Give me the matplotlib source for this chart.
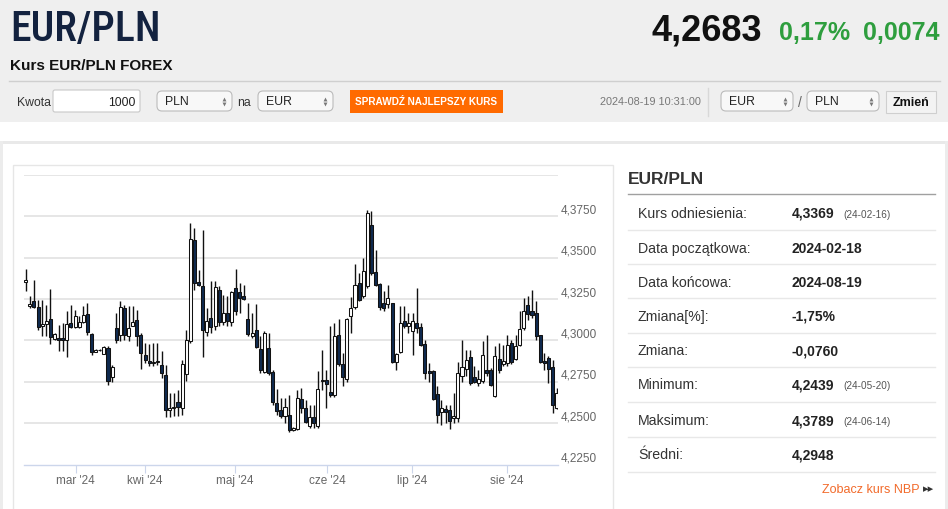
import numpy as np
import matplotlib
matplotlib.use("Agg")
import matplotlib.pyplot as plt
from matplotlib import font_manager as fm
from matplotlib.font_manager import FontProperties
from matplotlib.patches import Rectangle, FancyBboxPatch
import matplotlib.transforms as mtrans

# ---------------- data ----------------
opens = [4.3355, 4.3210, 4.3236, 4.3202, 4.3085, 4.3099, 4.3129, 4.3011, 4.3015, 4.3015,
         4.3003, 4.3105, 4.3081, 4.3081, 4.3109, 4.3160, 4.3041, 4.2930, 4.2944, 4.2920,
         4.2954, 4.2779, 4.3075, 4.3031, 4.3196, 4.3029, 4.3089, 4.3125, 4.3031, 4.2914,
         4.2877, 4.2863, 4.2869, 4.2853, 4.2789, 4.2581, 4.2591, 4.2627, 4.2591, 4.2799,
         4.2995, 4.3609, 4.3353, 4.3327, 4.3051, 4.3135, 4.3085, 4.3307, 4.3111, 4.3166,
         4.3111, 4.3317, 4.3291, 4.3270, 4.3129, 4.3025, 4.3065, 4.2950, 4.2809, 4.2954,
         4.2809, 4.2621, 4.2577, 4.2541, 4.2551, 4.2460, 4.2464, 4.2645, 4.2591, 4.2484,
         4.2535, 4.2486, 4.2754, 4.2762, 4.2688, 4.2671, 4.3031, 4.2859, 4.2768, 4.3146,
         4.3202, 4.3347, 4.3270, 4.3327, 4.3696, 4.3412, 4.3341, 4.3226, 4.3222, 4.3226,
         4.2867, 4.2928, 4.3117, 4.3085, 4.3055, 4.3105, 4.3081, 4.2979, 4.2813, 4.2813,
         4.2675, 4.2567, 4.2587, 4.2577, 4.2531, 4.2531, 4.2787, 4.2829, 4.2900, 4.2779,
         4.2742, 4.2756, 4.2823, 4.2823, 4.2665, 4.2889, 4.2859, 4.2863, 4.2985, 4.2887,
         4.2972, 4.3075, 4.3212, 4.3176, 4.3166, 4.3031, 4.2879, 4.2893, 4.2841, 4.2591]
highs = [4.3434, 4.3270, 4.3367, 4.3246, 4.3246, 4.3216, 4.3311, 4.3045, 4.3095, 4.3105,
         4.3180, 4.3212, 4.3186, 4.3146, 4.3206, 4.3226, 4.3045, 4.2950, 4.2950, 4.2964,
         4.2964, 4.2853, 4.3166, 4.3236, 4.3212, 4.3206, 4.3206, 4.3186, 4.3045, 4.2985,
         4.2981, 4.2985, 4.2985, 4.2934, 4.2853, 4.2681, 4.2681, 4.2702, 4.2883, 4.3061,
         4.3710, 4.3680, 4.3428, 4.3666, 4.3196, 4.3357, 4.3357, 4.3327, 4.3277, 4.3266,
         4.3297, 4.3434, 4.3347, 4.3337, 4.3226, 4.3166, 4.3222, 4.3025, 4.3055, 4.3045,
         4.2823, 4.2706, 4.2651, 4.2651, 4.2671, 4.2480, 4.2702, 4.2712, 4.2641, 4.2611,
         4.2611, 4.2813, 4.2944, 4.2823, 4.3085, 4.3105, 4.3129, 4.2924, 4.3135, 4.3262,
         4.3464, 4.3408, 4.3498, 4.3787, 4.3780, 4.3549, 4.3347, 4.3297, 4.3337, 4.3226,
         4.2924, 4.3206, 4.3206, 4.3166, 4.3166, 4.3317, 4.3105, 4.3005, 4.2863, 4.2823,
         4.2722, 4.2641, 4.2611, 4.2611, 4.2681, 4.2873, 4.3005, 4.2944, 4.2944, 4.2843,
         4.2823, 4.2999, 4.3035, 4.2833, 4.2964, 4.2985, 4.2974, 4.3035, 4.3005, 4.3035,
         4.3176, 4.3256, 4.3266, 4.3307, 4.3236, 4.3035, 4.2924, 4.2904, 4.2883, 4.2712]
lows = [4.3297, 4.3196, 4.3196, 4.3065, 4.3025, 4.3025, 4.2981, 4.3005, 4.2934, 4.2934,
        4.2900, 4.3075, 4.3075, 4.3075, 4.3105, 4.3035, 4.2914, 4.2928, 4.2934, 4.2918,
        4.2728, 4.2752, 4.2985, 4.2995, 4.3005, 4.2995, 4.3085, 4.2964, 4.2827, 4.2863,
        4.2843, 4.2843, 4.2853, 4.2772, 4.2537, 4.2537, 4.2541, 4.2545, 4.2551, 4.2758,
        4.2985, 4.3307, 4.3327, 4.2900, 4.3025, 4.3045, 4.3065, 4.3085, 4.3095, 4.3085,
        4.3085, 4.3156, 4.3166, 4.3242, 4.3025, 4.3015, 4.2954, 4.2803, 4.2803, 4.2793,
        4.2611, 4.2551, 4.2531, 4.2500, 4.2446, 4.2456, 4.2460, 4.2561, 4.2500, 4.2470,
        4.2470, 4.2470, 4.2702, 4.2591, 4.2661, 4.2661, 4.2843, 4.2722, 4.2752, 4.3045,
        4.3190, 4.3236, 4.3256, 4.3317, 4.3398, 4.3327, 4.3182, 4.3176, 4.3196, 4.2863,
        4.2823, 4.2924, 4.3075, 4.3045, 4.2914, 4.3045, 4.2964, 4.2766, 4.2752, 4.2641,
        4.2500, 4.2490, 4.2500, 4.2464, 4.2500, 4.2510, 4.2752, 4.2783, 4.2732, 4.2742,
        4.2722, 4.2742, 4.2783, 4.2722, 4.2657, 4.2803, 4.2843, 4.2843, 4.2859, 4.2883,
        4.2964, 4.3065, 4.3125, 4.3135, 4.3005, 4.2863, 4.2823, 4.2742, 4.2561, 4.2585]
closes = [4.3367, 4.3220, 4.3202, 4.3079, 4.3099, 4.3117, 4.3021, 4.3041, 4.3005, 4.3005,
          4.3099, 4.3081, 4.3150, 4.3109, 4.3156, 4.3049, 4.2930, 4.2944, 4.2940, 4.2960,
          4.2754, 4.2839, 4.3005, 4.3200, 4.3031, 4.3075, 4.3111, 4.3025, 4.2924, 4.2883,
          4.2863, 4.2873, 4.2877, 4.2803, 4.2581, 4.2591, 4.2601, 4.2597, 4.2859, 4.3001,
          4.3613, 4.3347, 4.3333, 4.3065, 4.3119, 4.3079, 4.3321, 4.3109, 4.3166, 4.3115,
          4.3291, 4.3176, 4.3256, 4.3250, 4.3039, 4.3045, 4.2960, 4.2823, 4.3045, 4.2803,
          4.2627, 4.2571, 4.2541, 4.2601, 4.2460, 4.2470, 4.2651, 4.2591, 4.2506, 4.2535,
          4.2500, 4.2706, 4.2762, 4.2738, 4.2671, 4.3025, 4.2859, 4.2779, 4.3129, 4.3196,
          4.3337, 4.3246, 4.3418, 4.3770, 4.3408, 4.3337, 4.3202, 4.3196, 4.3256, 4.2869,
          4.2918, 4.3105, 4.3085, 4.3105, 4.3117, 4.3075, 4.2970, 4.2803, 4.2803, 4.2645,
          4.2551, 4.2591, 4.2567, 4.2516, 4.2541, 4.2803, 4.2839, 4.2883, 4.2742, 4.2752,
          4.2766, 4.2914, 4.2803, 4.2732, 4.2904, 4.2819, 4.2877, 4.2974, 4.2869, 4.2964,
          4.3069, 4.3176, 4.3162, 4.3156, 4.3025, 4.2873, 4.2863, 4.2829, 4.2611, 4.2681]

month_labels = ["mar '24", "kwi '24", "maj '24", "cze '24", "lip '24", "sie '24"]
month_pos = [12.15, 28.9, 50.9, 73.3, 93.9, 116.9]
y_gridvals = [4.250, 4.275, 4.300, 4.325, 4.350, 4.375, 4.400]
y_labelvals = [4.225, 4.250, 4.275, 4.300, 4.325, 4.350, 4.375]

table_labels = ["Kurs odniesienia:", "Data początkowa:", "Data końcowa:", "Zmiana[%]:",
                "Zmiana:", "Minimum:", "Maksimum:", "Średni:"]
table_values = ["4,3369", "2024-02-18", "2024-08-19", "-1,75%", "-0,0760", "4,2439",
                "4,3789", "4,2948"]
table_dates = ["(24-02-16)", "", "", "", "", "(24-05-20)", "(24-06-14)", ""]

# ---------------- fonts ----------------
names = {f.name for f in fm.fontManager.ttflist}
SANS = 'Liberation Sans' if 'Liberation Sans' in names else 'DejaVu Sans'
plt.rcParams['font.family'] = [SANS, 'DejaVu Sans']


def _stretch_val(s):
    if isinstance(s, (int, float)):
        return s
    table = {'ultra-condensed': 100, 'extra-condensed': 200, 'condensed': 300,
             'semi-condensed': 400, 'normal': 500}
    return table.get(str(s), 500)


def find_condensed(bold):
    cands = []
    for f in fm.fontManager.ttflist:
        nm = f.name
        narrowish = ('Narrow' in nm or 'Condensed' in nm or _stretch_val(f.stretch) < 500
                     or 'Condensed' in f.fname or 'Narrow' in f.fname)
        if not narrowish or 'Mono' in nm or 'Serif' in nm or 'CJK' in nm:
            continue
        w = f.weight if isinstance(f.weight, (int, float)) else (700 if 'bold' in str(f.weight) else 400)
        if f.style != 'normal':
            continue
        if bold and w < 600:
            continue
        if not bold and w >= 600:
            continue
        pri = 0 if 'Liberation' in nm else (1 if 'Roboto' in nm or 'Open' in nm else 2)
        cands.append((pri, abs(w - (700 if bold else 500)), f.fname))
    if cands:
        cands.sort()
        return cands[0][2]
    return None


cond_reg = find_condensed(False)
cond_bold = find_condensed(True)


def fp(size, bold=False, condensed=False):
    path = (cond_bold if bold else cond_reg) if condensed else None
    if path:
        return FontProperties(fname=path, size=size)
    return FontProperties(family=[SANS, 'DejaVu Sans'], size=size,
                          weight='bold' if bold else 'normal')


W, H = 948, 509
fig = plt.figure(figsize=(W / 100, H / 100), dpi=100)
fig.patch.set_facecolor('white')

page = fig.add_axes([0, 0, 1, 1])
page.set_xlim(0, W)
page.set_ylim(H, 0)
page.axis('off')

# header background
page.add_patch(Rectangle((0, 0), W, 122, fc='#efefef', ec='none'))
page.add_patch(Rectangle((0, 141), W, 3, fc='#e9e9e9', ec='none'))
page.add_patch(Rectangle((0, 141), 3, H - 141, fc='#ececec', ec='none'))
page.add_patch(Rectangle((945, 141), 3, H - 141, fc='#ececec', ec='none'))
page.add_patch(Rectangle((13, 165), 600, 360, fc='none', ec='#e6e6e6', lw=1))
page.plot([9, 940], [81, 81], color='#cfcfcf', lw=1)

title_size = 30 if cond_reg else 26
page.text(10, 41, "EUR/PLN", fontproperties=fp(title_size, False, True),
          color='#13223f', va='baseline')
page.text(10, 70, "Kurs EUR/PLN FOREX", fontproperties=fp(11, True, False),
          color='#111111', va='baseline')
page.text(762, 40, "4,2683", fontproperties=fp(26, True, False), color='#111111',
          ha='right', va='baseline')
page.text(850, 40, "0,17%", fontproperties=fp(18, True, False), color='#2e9e3e',
          ha='right', va='baseline')
page.text(940, 40, "0,0074", fontproperties=fp(18, True, False), color='#2e9e3e',
          ha='right', va='baseline')

# controls row
ty = 106
page.text(17, ty, "Kwota", fontsize=8.8, color='#333333', va='baseline')
page.add_patch(FancyBboxPatch((53, 90), 87, 22, boxstyle='round,pad=0,rounding_size=2',
                              fc='white', ec='#c8c8c8', lw=0.8))
page.text(136, ty, "1000", fontsize=8.8, color='#222222', ha='right', va='baseline')


def select(x, w, label):
    page.add_patch(FancyBboxPatch((x, 91), w, 20, boxstyle='round,pad=0,rounding_size=5',
                                  fc='#f8f8f8', ec='#bbbbbb', lw=0.8))
    page.text(x + 8, ty - 1, label, fontsize=8.8, color='#222222', va='baseline')
    page.plot([x + w - 8], [98.5], marker='^', ms=2.8, color='#777777', mew=0)
    page.plot([x + w - 8], [103.5], marker='v', ms=2.8, color='#777777', mew=0)


select(157, 75, "PLN")
page.text(237, ty, "na", fontsize=8.8, color='#333333', va='baseline')
select(258, 75, "EUR")
page.add_patch(Rectangle((350, 90), 153, 23, fc='#ff6a00', ec='none'))
page.text(426.5, 105, "SPRAWDŹ NAJLEPSZY KURS", fontproperties=fp(7.2, True, False),
          color='white', ha='center', va='baseline')
page.text(600, 105, "2024-08-19 10:31:00", fontsize=7.8, color='#777777', va='baseline')
page.plot([708, 708], [88, 116], color='#d8d8d8', lw=1)
select(721, 72, "EUR")
page.text(800, ty + 1, "/", fontsize=10, color='#666666', va='baseline', ha='center')
select(807, 72, "PLN")
page.add_patch(Rectangle((886, 91), 50, 22, fc='#f3f3f3', ec='#cfcfcf', lw=0.8))
page.text(911, ty, "Zmień", fontproperties=fp(9, True, False),
          color='#111111', ha='center', va='baseline')

# right table
page.text(628, 184, "EUR/PLN", fontsize=12.5, fontweight='bold', color='#333333',
          va='baseline')
page.plot([628, 935], [194, 194], color='#a0a0a0', lw=1)
row_y = [212.7, 247.7, 282.3, 315.7, 350, 384.3, 420.3, 454.3]
sep_y = [230, 264.3, 298.3, 332.7, 367.3, 402.3, 437.3, 472.3]
for yy in sep_y:
    page.plot([628, 935], [yy, yy], color='#e8e8e8', lw=1)
for yy, lab, val, dt in zip(row_y, table_labels, table_values, table_dates):
    page.text(638, yy + 5, lab, fontsize=10.2, color='#333333', va='baseline')
    page.text(792, yy + 5, val, fontsize=10, fontweight='bold', color='#222222',
              va='baseline')
    if dt:
        page.text(843, yy + 5, dt, fontsize=7.2, color='#555555', va='baseline')
page.text(920, 493, "Zobacz kurs NBP", fontsize=9, color='#f26a2a', ha='right',
          va='baseline')
page.text(923, 492.5, "▸▸", fontsize=8, color='#333333', ha='left', va='baseline',
          family=['DejaVu Sans'])

# ---------------- candlestick chart ----------------
x0, x1, ytop, ybot = 24, 558, 175, 464.6
ax = fig.add_axes([x0 / W, 1 - ybot / H, (x1 - x0) / W, (ybot - ytop) / H])
ax.set_facecolor('none')
n = len(opens)
xs = np.arange(n)
ax.set_xlim(-0.41, n - 1 + 0.32)
ax.set_ylim(4.225, 4.40)
for gv in y_gridvals:
    ax.axhline(gv, color='#e4e4e4', lw=1.3, zorder=0)

o = np.array(opens); c = np.array(closes); h = np.array(highs); l = np.array(lows)
up = c >= o
ax.vlines(xs, l, h, color='#111111', lw=1.0, zorder=2)
bottom = np.minimum(o, c)
height = np.maximum(np.abs(c - o), 0.0002)
ax.bar(xs[up], height[up], bottom=bottom[up], width=0.74, color='white',
       edgecolor='#111111', linewidth=0.75, zorder=3)
ax.bar(xs[~up], height[~up], bottom=bottom[~up], width=0.74, color='#0f2a4f',
       edgecolor='#111111', linewidth=0.75, zorder=3)

for s in ['top', 'left', 'right']:
    ax.spines[s].set_visible(False)
ax.spines['bottom'].set_color('#ccd6eb')
ax.spines['bottom'].set_linewidth(1)
ax.set_yticks([])
ax.set_xticks(month_pos)
ax.set_xticklabels(month_labels)
ax.tick_params(axis='x', length=6, color='#ccd6eb', labelsize=8.5, labelcolor='#666666',
               pad=1.5)
lab_tr = mtrans.offset_copy(ax.get_yaxis_transform(), fig=fig, x=3, y=6, units='dots')
for yv in y_labelvals:
    ax.text(1.0, yv, f"{yv:.4f}".replace('.', ','), transform=lab_tr, fontsize=8.5,
            color='#666666', ha='left', va='center', clip_on=False)

fig.savefig('out.png', dpi=100)
